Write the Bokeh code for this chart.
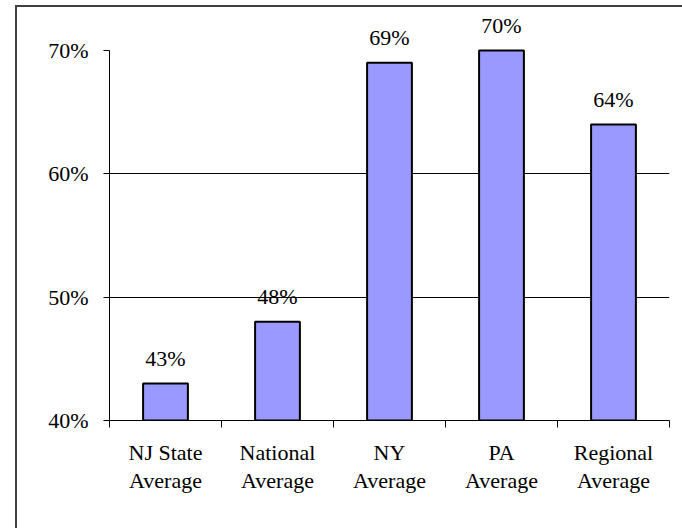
from bokeh.plotting import figure
from bokeh.layouts import column
from bokeh.models import FixedTicker, PrintfTickFormatter, ColumnDataSource, Range1d
from bokeh.core.properties import value
from bokeh.embed import file_html
from bokeh.resources import INLINE

categories = ["NJ State\nAverage", "National\nAverage", "NY\nAverage", "PA\nAverage", "Regional\nAverage"]
values = [43, 48, 69, 70, 64]
y_ticks = [40, 50, 60, 70]
grid_ticks = [50, 60]

xs = [i + 0.5 for i in range(len(categories))]
bounds = [float(i) for i in range(len(categories) + 1)]
labels = [f"{v}%" for v in values]

src = ColumnDataSource(dict(x=xs, top=values, label=labels))

FONT = "Liberation Serif"
FS = "22px"

p = figure(width=665, height=521, output_backend="svg", toolbar_location=None,
           x_range=Range1d(0, len(categories)), y_range=Range1d(40, 73.49),
           min_border_left=92, min_border_right=13, min_border_top=0, min_border_bottom=108)

p.outline_line_color = None
p.background_fill_color = "white"
p.border_fill_color = "white"

p.vbar(x="x", top="top", bottom=40, width=0.4, source=src,
       fill_color="#9999FF", line_color="black", line_width=2)

p.text(x="x", y="top", text="label", source=src, text_font=value(FONT), text_font_size=FS,
       text_align="center", text_baseline="alphabetic", y_offset=-25, text_color="black")

# y axis
p.yaxis.ticker = FixedTicker(ticks=y_ticks)
p.yaxis.formatter = PrintfTickFormatter(format="%d%%")
p.yaxis.bounds = (y_ticks[0], y_ticks[-1])
p.yaxis.axis_line_color = "black"
p.yaxis.axis_line_width = 1
p.yaxis.major_tick_out = 6
p.yaxis.major_tick_in = 0
p.yaxis.minor_tick_line_color = None
p.yaxis.major_label_standoff = 15
p.yaxis.major_label_text_font = FONT
p.yaxis.major_label_text_font_size = FS
p.yaxis.major_label_text_color = "black"

# x axis
p.xaxis.ticker = FixedTicker(ticks=xs, minor_ticks=bounds)
p.xaxis.major_label_overrides = {x: c for x, c in zip(xs, categories)}
p.xaxis.major_tick_line_color = None
p.xaxis.major_tick_out = 0
p.xaxis.major_tick_in = 0
p.xaxis.minor_tick_out = 7
p.xaxis.minor_tick_in = 0
p.xaxis.minor_tick_line_color = "black"
p.xaxis.axis_line_color = "black"
p.xaxis.major_label_standoff = 12
p.xaxis.major_label_text_font = FONT
p.xaxis.major_label_text_font_size = FS
p.xaxis.major_label_text_color = "black"
p.xaxis.major_label_text_line_height = 1.15

# grid
p.xgrid.grid_line_color = None
p.ygrid.ticker = FixedTicker(ticks=grid_ticks)
p.ygrid.grid_line_color = "black"
p.ygrid.grid_line_width = 1

layout = column(p, styles={"border-left": "2px solid #404040", "border-top": "2px solid #404040",
                           "margin-left": "15px", "margin-top": "5px"})

open("out.html", "w").write(file_html(layout, INLINE))
